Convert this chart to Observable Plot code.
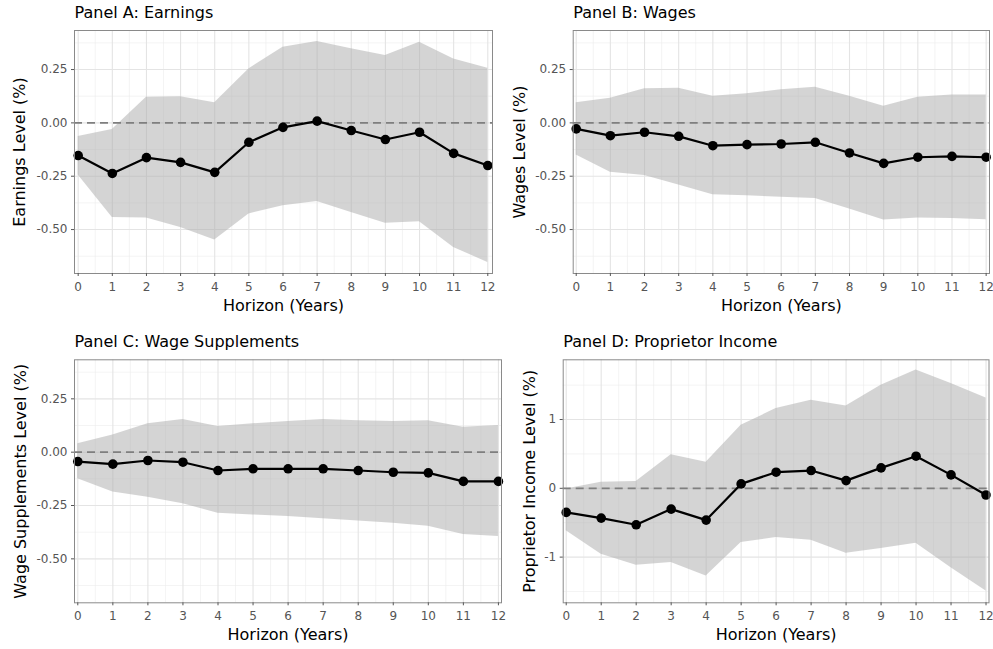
<!DOCTYPE html>
<html>
<head>
<meta charset="utf-8">
<script src="https://cdn.jsdelivr.net/npm/d3@7"></script>
<script src="https://cdn.jsdelivr.net/npm/@observablehq/plot@0.6"></script>
<style>
  html, body { margin: 0; padding: 0; background: #fff; }
  #root { position: relative; width: 993px; height: 649px; overflow: hidden; background: #fff; }
  #root > svg { position: absolute; }
</style>
</head>
<body>
<div id="root"></div>
<script>
// ---- Data ----
const horizon = [0, 1, 2, 3, 4, 5, 6, 7, 8, 9, 10, 11, 12];

const earningsEst = [-0.153, -0.237, -0.163, -0.185, -0.232, -0.091, -0.021, 0.008, -0.036, -0.078, -0.044, -0.143, -0.200];
const earningsLo  = [-0.244, -0.443, -0.446, -0.490, -0.549, -0.427, -0.388, -0.368, -0.420, -0.470, -0.463, -0.584, -0.654];
const earningsHi  = [-0.064, -0.031, 0.120, 0.123, 0.094, 0.253, 0.355, 0.382, 0.347, 0.316, 0.378, 0.300, 0.256];

const wagesEst = [-0.028, -0.060, -0.044, -0.063, -0.107, -0.102, -0.099, -0.091, -0.141, -0.190, -0.161, -0.157, -0.161];
const wagesLo  = [-0.150, -0.232, -0.247, -0.291, -0.337, -0.341, -0.349, -0.354, -0.404, -0.455, -0.446, -0.448, -0.454];
const wagesHi  = [0.094, 0.115, 0.160, 0.162, 0.125, 0.136, 0.155, 0.167, 0.125, 0.078, 0.120, 0.131, 0.131];

const suppEst = [-0.044, -0.056, -0.039, -0.047, -0.086, -0.078, -0.078, -0.078, -0.086, -0.094, -0.097, -0.137, -0.137];
const suppLo  = [-0.125, -0.187, -0.211, -0.242, -0.286, -0.294, -0.301, -0.312, -0.323, -0.333, -0.347, -0.386, -0.395];
const suppHi  = [0.039, 0.081, 0.133, 0.153, 0.120, 0.133, 0.144, 0.153, 0.147, 0.144, 0.147, 0.117, 0.125];

const propEst = [-0.350, -0.433, -0.530, -0.302, -0.462, 0.064, 0.234, 0.258, 0.112, 0.297, 0.467, 0.195, -0.097];
const propLo  = [-0.618, -0.958, -1.119, -1.080, -1.275, -0.788, -0.715, -0.754, -0.944, -0.876, -0.798, -1.153, -1.494];
const propHi  = [-0.010, 0.088, 0.098, 0.487, 0.380, 0.915, 1.159, 1.280, 1.197, 1.499, 1.718, 1.524, 1.314];

// Tick labels / grid positions
const xTicks = horizon;
const xMinor = [0.5, 1.5, 2.5, 3.5, 4.5, 5.5, 6.5, 7.5, 8.5, 9.5, 10.5, 11.5];
const yTicksSmall = [-0.5, -0.25, 0, 0.25];
const yMinorSmall = [-0.625, -0.375, -0.125, 0.125, 0.375];
const yTicksProp = [-1, 0, 1];
const yMinorProp = [-1.5, -0.5, 0.5, 1.5];

const titles = ["Panel A: Earnings", "Panel B: Wages", "Panel C: Wage Supplements", "Panel D: Proprietor Income"];
const yLabels = ["Earnings Level (%)", "Wages Level (%)", "Wage Supplements Level (%)", "Proprietor Income Level (%)"];
const xLabel = "Horizon (Years)";

function table(est, lo, hi) {
  return horizon.map((h, i) => ({h, est: est[i], lo: lo[i], hi: hi[i]}));
}

const FONT = "DejaVu Sans";

function panel(cfg) {
  const data = table(cfg.est, cfg.lo, cfg.hi);
  const chart = Plot.plot({
    width: cfg.width,
    height: cfg.height,
    marginLeft: cfg.ml,
    marginRight: cfg.mr,
    marginTop: cfg.mt,
    marginBottom: cfg.mb,
    style: {fontFamily: FONT, fontSize: "12px", background: "transparent", overflow: "visible"},
    x: {domain: cfg.xDomain},
    y: {domain: cfg.yDomain},
    marks: [
      // grid
      Plot.ruleX(xMinor, {stroke: "#ececec", strokeWidth: 0.6}),
      Plot.ruleY(cfg.yMinor, {stroke: "#ececec", strokeWidth: 0.6}),
      Plot.ruleX(xTicks, {stroke: "#e4e4e4", strokeWidth: 1.1}),
      Plot.ruleY(cfg.yTicks, {stroke: "#e4e4e4", strokeWidth: 1.1}),
      // confidence band
      Plot.areaY(data, {x: "h", y1: "lo", y2: "hi", fill: "#a9a9a9", fillOpacity: 0.5}),
      // zero reference
      Plot.ruleY([0], {stroke: "#7f7f7f", strokeWidth: 1.8, strokeDasharray: "8,5"}),
      // estimates
      Plot.line(data, {x: "h", y: "est", stroke: "black", strokeWidth: 2.2}),
      Plot.dot(data, {x: "h", y: "est", r: 4.8, fill: "black", stroke: "none"}),
      Plot.frame({stroke: "#8a8a8a", strokeWidth: 1}),
      // axes
      Plot.axisX({ticks: xTicks, tickSize: 3, tickPadding: 5.5, tickFormat: d => String(d),
        label: null, fontSize: 12, color: "#555555"}),
      Plot.axisY({ticks: cfg.yTicks, tickSize: 3, tickPadding: 4, tickFormat: cfg.yFormat,
        label: null, fontSize: 12, color: "#555555"}),
      // titles
      Plot.text([cfg.title], {text: d => d, frameAnchor: "top-left", dy: -13, textAnchor: "start",
        lineAnchor: "bottom", fontSize: 16, fill: "black"}),
      Plot.text([xLabel], {text: d => d, frameAnchor: "bottom", dy: 37, textAnchor: "middle",
        lineAnchor: "bottom", fontSize: 16, fill: "black"}),
      Plot.text([cfg.yLabel], {text: d => d, frameAnchor: "left", dx: cfg.yLabelDx, rotate: -90,
        textAnchor: "middle", lineAnchor: "bottom", fontSize: 16, fill: "black"})
    ]
  });
  chart.style.left = cfg.left + "px";
  chart.style.top = cfg.top + "px";
  document.getElementById("root").appendChild(chart);
}

const fmt2 = d => d.toFixed(2);
const fmt0 = d => String(d);
const smallDomain = [-0.706, 0.433];

panel({title: titles[0], yLabel: yLabels[0], est: earningsEst, lo: earningsLo, hi: earningsHi,
  left: 0, top: 0, width: 496, height: 322, ml: 74, mr: 4, mt: 30, mb: 49,
  xDomain: [-0.108, 12.138], yDomain: smallDomain, yTicks: yTicksSmall, yMinor: yMinorSmall,
  yFormat: fmt2, yLabelDx: -49.5});

panel({title: titles[1], yLabel: yLabels[1], est: wagesEst, lo: wagesLo, hi: wagesHi,
  left: 496, top: 0, width: 497, height: 322, ml: 76.7, mr: 4, mt: 30, mb: 49,
  xDomain: [-0.088, 12.098], yDomain: smallDomain, yTicks: yTicksSmall, yMinor: yMinorSmall,
  yFormat: fmt2, yLabelDx: -48.5});

panel({title: titles[2], yLabel: yLabels[2], est: suppEst, lo: suppLo, hi: suppHi,
  left: 0, top: 322, width: 505, height: 327, ml: 74, mr: 4, mt: 37.3, mb: 46.7,
  xDomain: [-0.094, 12.088], yDomain: smallDomain, yTicks: yTicksSmall, yMinor: yMinorSmall,
  yFormat: fmt2, yLabelDx: -49});

panel({title: titles[3], yLabel: yLabels[3], est: propEst, lo: propLo, hi: propHi,
  left: 505, top: 322, width: 488, height: 327, ml: 57.7, mr: 4.5, mt: 37.3, mb: 46.7,
  xDomain: [-0.086, 12.085], yDomain: [-1.664, 1.868], yTicks: yTicksProp, yMinor: yMinorProp,
  yFormat: fmt0, yLabelDx: -28});
</script>
</body>
</html>
